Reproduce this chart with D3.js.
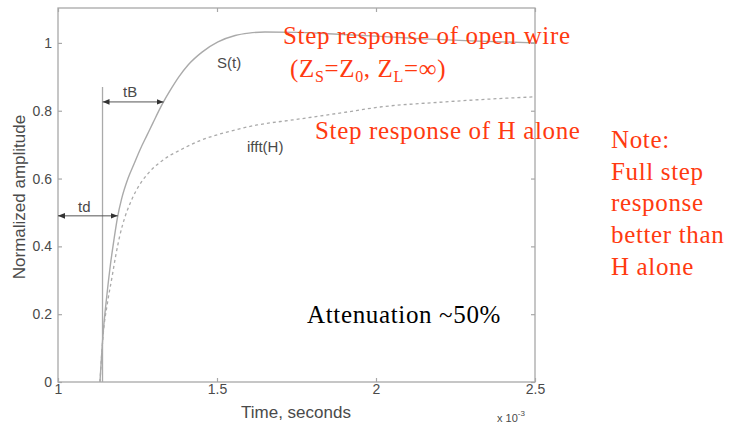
<!DOCTYPE html>
<html><head><meta charset="utf-8">
<script src="https://cdn.jsdelivr.net/npm/d3@7"></script>
<style>body{margin:0;background:#fff}svg{display:block}</style>
</head><body>
<svg id="c" width="729" height="427"></svg>
<script>
const xTicks = [1, 1.5, 2, 2.5];
const yTicks = [0, 0.2, 0.4, 0.6, 0.8, 1];
const sTime = [1.132,1.142,1.153,1.164,1.176,1.187,1.2,1.22,1.24,1.258,1.28,1.299,1.327,1.358,1.38,1.409,1.453,1.503,1.557,1.6,1.651,1.75,1.85,2.0,2.15,2.3,2.5];
const sVal  = [0,0.145,0.25,0.34,0.42,0.485,0.54,0.6,0.645,0.685,0.728,0.765,0.818,0.868,0.9,0.935,0.973,1.003,1.022,1.029,1.032,1.031,1.027,1.02,1.012,1.006,1.0];
const hTime = [1.132,1.142,1.155,1.17,1.182,1.194,1.21,1.226,1.245,1.267,1.292,1.321,1.35,1.384,1.447,1.531,1.626,1.739,1.9,2.013,2.2,2.35,2.5];
const hVal  = [0,0.14,0.23,0.31,0.375,0.43,0.485,0.525,0.563,0.596,0.624,0.648,0.667,0.684,0.712,0.737,0.758,0.773,0.795,0.811,0.825,0.834,0.841];
const markerT = 1.14, tdLevel = 0.49, tbLevel = 0.826, tdEnd = 1.188, tbEnd = 1.332;

const svg = d3.select("#c");
const L = 58, R = 535, T = 8, B = 382;
const x = d3.scaleLinear().domain([1, 2.5]).range([L, R]);
const y = d3.scaleLinear().domain([0, 1.103]).range([B, T]);
const axC = "#a8a8a8", txtC = "#4a4a4a";
const sans = "Liberation Sans, Arial, sans-serif";

svg.append("rect").attr("x", L).attr("y", T).attr("width", R - L).attr("height", B - T)
  .attr("fill", "none").attr("stroke", axC).attr("stroke-width", 1.3);

svg.append("g").attr("transform", `translate(0,${B})`)
  .call(d3.axisBottom(x).tickValues(xTicks).tickSize(-4).tickPadding(2).tickFormat(d3.format("")));
svg.append("g").attr("transform", `translate(${L},0)`)
  .call(d3.axisLeft(y).tickValues(yTicks).tickSize(-4).tickPadding(6).tickFormat(d3.format("")));
svg.append("g").attr("transform", `translate(0,${T})`)
  .call(d3.axisTop(x).tickValues(xTicks).tickSize(-4).tickFormat(""));
svg.append("g").attr("transform", `translate(${R},0)`)
  .call(d3.axisRight(y).tickValues(yTicks).tickSize(-4).tickFormat(""));
svg.selectAll(".domain").remove();
svg.selectAll(".tick line").attr("stroke", axC).attr("stroke-width", 1.2);
svg.selectAll(".tick text").attr("fill", txtC).attr("font-family", sans).attr("font-size", 14);

const line = d3.line().curve(d3.curveMonotoneX);
const sPts = sTime.map((t, i) => [x(t), y(sVal[i])]);
const hPts = hTime.map((t, i) => [x(t), y(hVal[i])]);
svg.append("path").attr("d", line(sPts)).attr("fill", "none").attr("stroke", "#aaa").attr("stroke-width", 1.4);
svg.append("path").attr("d", line(hPts)).attr("fill", "none").attr("stroke", "#aaa").attr("stroke-width", 1.3).attr("stroke-dasharray", "3,3");

svg.append("line").attr("x1", x(markerT)).attr("x2", x(markerT)).attr("y1", y(0)).attr("y2", y(0.87))
  .attr("stroke", "#aaa").attr("stroke-width", 1.3);

const defs = svg.append("defs");
defs.append("marker").attr("id", "ah").attr("viewBox", "0 0 10 10").attr("refX", 10).attr("refY", 5)
  .attr("markerWidth", 7).attr("markerHeight", 7).attr("orient", "auto-start-reverse")
  .append("path").attr("d", "M0,1 L10,5 L0,9 Z").attr("fill", "#333");
function arrow(x1, x2, yv) {
  svg.append("line").attr("x1", x1).attr("x2", x2).attr("y1", y(yv)).attr("y2", y(yv))
    .attr("stroke", "#555").attr("stroke-width", 1)
    .attr("marker-start", "url(#ah)").attr("marker-end", "url(#ah)");
}
arrow(x(1), x(tdEnd), tdLevel);
arrow(x(markerT), x(tbEnd), tbLevel);

function gtxt(t, px, py, size, anchor) {
  return svg.append("text").attr("x", px).attr("y", py).attr("fill", txtC)
    .attr("font-family", sans).attr("font-size", size || 15).attr("text-anchor", anchor || "start").text(t);
}
gtxt("td", 78, 212);
gtxt("tB", 123, 97);
gtxt("S(t)", 217, 68);
gtxt("ifft(H)", 247, 152);
gtxt("Time, seconds", 296, 418, 17, "middle");
svg.append("text").attr("transform", "translate(25,197) rotate(-90)").attr("text-anchor", "middle")
  .attr("fill", txtC).attr("font-family", sans).attr("font-size", 17).text("Normalized amplitude");
const xe = gtxt("x 10", 497, 422, 11);
xe.append("tspan").attr("dy", -6).attr("font-size", 8).text("-3");

const serif = "Liberation Serif, 'Times New Roman', serif";
const red = "#ff3a10";
function rtxt(t, px, py, col) {
  return svg.append("text").attr("x", px).attr("y", py).attr("fill", col || red)
    .attr("font-family", serif).attr("font-size", 25).attr("letter-spacing", 0.65).text(t);
}
rtxt("Step response of open wire", 283, 44);
const z = rtxt("(Z", 290, 77);
z.append("tspan").attr("font-size", 16).attr("dy", 5).text("S");
z.append("tspan").attr("dy", -5).text("=Z");
z.append("tspan").attr("font-size", 16).attr("dy", 5).text("0");
z.append("tspan").attr("dy", -5).text(", Z");
z.append("tspan").attr("font-size", 16).attr("dy", 5).text("L");
z.append("tspan").attr("dy", -5).text("=∞)");
rtxt("Step response of H alone", 315, 139);
["Note:", "Full step", "response", "better than", "H alone"].forEach((s, i) => rtxt(s, 611, 148 + i * 31.7));
rtxt("Attenuation ~50%", 307, 323, "#000");
</script>
</body></html>
